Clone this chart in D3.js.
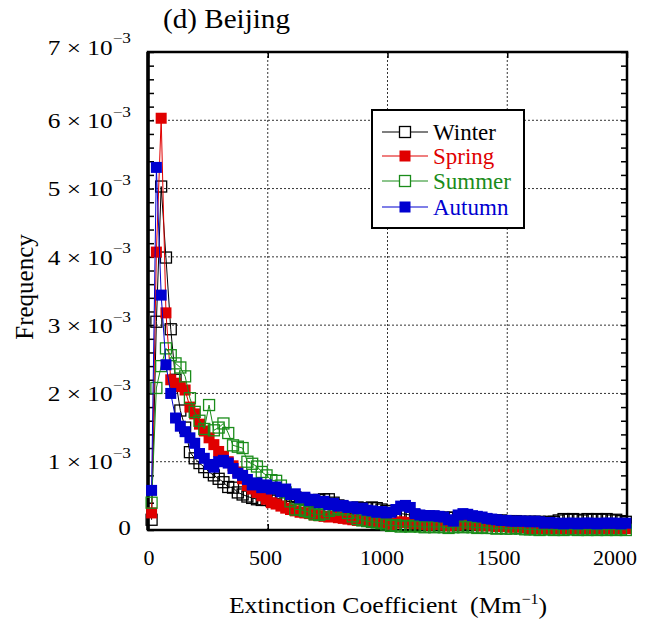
<!DOCTYPE html>
<html><head><meta charset="utf-8">
<script src="https://cdn.jsdelivr.net/npm/d3@7/dist/d3.min.js"></script>
<style>
html,body{margin:0;padding:0;background:#fff;}
svg{display:block;}
text{font-family:"Liberation Serif","Times New Roman",serif;}
</style></head>
<body>
<svg id="chart" width="665" height="624"></svg>
<script>
// Bin positions (Mm^-1)
const binX = [15,35,55,75,95,115,135,155,175,195,215,235,255,275,295,315,335,355,375,395,
415,435,455,475,495,515,535,555,575,595,615,635,655,675,695,715,735,755,775,795,
815,835,855,875,895,915,935,955,975,995,1015,1035,1055,1075,1095,1115,1135,1155,1175,1195,
1215,1235,1255,1275,1295,1315,1335,1355,1375,1395,1415,1435,1455,1475,1495,1515,1535,1555,1575,1595,
1615,1635,1655,1675,1695,1715,1735,1755,1775,1795,1815,1835,1855,1875,1895,1915,1935,1955,1975,1995];

// Frequencies in units of 1e-3
const winter = [0.15,3.05,5.03,3.99,2.94,2.2,1.75,1.5,1.14,1.05,0.98,0.92,0.85,0.8,0.75,0.7,0.63,0.62,0.55,0.52,
0.49,0.47,0.45,0.44,0.44,0.43,0.45,0.47,0.5,0.5,0.48,0.46,0.44,0.42,0.42,0.44,0.45,0.45,0.4,0.36,
0.33,0.32,0.32,0.33,0.32,0.32,0.33,0.32,0.3,0.28,0.25,0.24,0.24,0.23,0.22,0.21,0.2,0.2,0.19,0.19,
0.18,0.18,0.18,0.18,0.17,0.17,0.16,0.16,0.15,0.15,0.15,0.14,0.14,0.14,0.13,0.13,0.13,0.12,0.12,0.12,
0.12,0.12,0.11,0.12,0.12,0.14,0.16,0.15,0.16,0.15,0.14,0.16,0.15,0.16,0.15,0.16,0.14,0.15,0.13,0.12];
const spring = [0.25,4.07,6.03,3.18,2.2,2.15,2.1,2.05,1.8,1.7,1.55,1.45,1.35,1.25,1.15,1.08,1.0,0.94,0.85,0.75,
0.65,0.6,0.55,0.5,0.45,0.4,0.38,0.35,0.32,0.3,0.28,0.26,0.25,0.24,0.22,0.21,0.2,0.19,0.2,0.18,
0.17,0.16,0.15,0.14,0.14,0.13,0.12,0.12,0.11,0.1,0.08,0.1,0.12,0.11,0.1,0.09,0.1,0.08,0.07,0.08,
0.09,0.07,0.06,0.08,0.07,0.09,0.1,0.08,0.07,0.06,0.07,0.06,0.05,0.06,0.05,0.04,0.05,0.04,0.03,0.02,
0.03,0.02,0.03,0.02,0.02,0.03,0.02,0.02,0.03,0.02,0.02,0.03,0.02,0.02,0.03,0.02,0.02,0.02,0.03,0.02];
const summer = [0.4,2.08,2.4,2.66,2.56,2.44,2.38,2.25,1.93,1.73,1.6,1.48,1.83,1.46,1.5,1.56,1.42,1.24,1.22,1.2,
1.0,0.97,0.93,0.85,0.8,0.73,0.72,0.65,0.55,0.42,0.3,0.3,0.28,0.26,0.23,0.22,0.24,0.28,0.3,0.32,
0.3,0.25,0.2,0.16,0.14,0.13,0.12,0.11,0.1,0.08,0.06,0.07,0.05,0.06,0.05,0.06,0.05,0.04,0.05,0.04,
0.05,0.04,0.03,0.04,0.05,0.04,0.05,0.04,0.03,0.04,0.03,0.03,0.02,0.03,0.02,0.02,0.03,0.02,0.01,0.01,
0.01,0.0,0.01,0.01,0.0,0.01,0.0,0.01,0.01,0.0,0.01,0.0,0.01,0.0,0.01,0.0,0.01,0.0,0.01,0.0];
const autumn = [0.58,5.31,3.44,2.42,2.0,1.64,1.52,1.44,1.35,1.27,1.12,1.05,0.96,0.92,1.0,1.02,0.98,0.9,0.83,0.8,
0.74,0.66,0.69,0.62,0.66,0.6,0.63,0.56,0.6,0.52,0.53,0.47,0.48,0.43,0.45,0.4,0.42,0.37,0.39,0.35,
0.36,0.33,0.34,0.31,0.32,0.29,0.28,0.26,0.27,0.25,0.26,0.3,0.35,0.36,0.33,0.24,0.22,0.21,0.21,0.21,
0.2,0.19,0.15,0.13,0.22,0.24,0.23,0.21,0.2,0.19,0.17,0.16,0.15,0.14,0.14,0.13,0.13,0.13,0.13,0.12,
0.13,0.12,0.1,0.11,0.1,0.1,0.09,0.1,0.1,0.09,0.1,0.1,0.1,0.09,0.1,0.1,0.1,0.1,0.09,0.1];

const seriesNames = ["Winter","Spring","Summer","Autumn"];
const seriesColors = ["#000000","#e00000","#1a8c1a","#0000d0"];
const seriesFilled = [false,true,false,true];
const seriesValues = [winter,spring,summer,autumn];

const yTicks = [0,1,2,3,4,5,6,7];
const xTicks = [0,500,1000,1500,2000];

const svg = d3.select("#chart");
const L = 148, R = 627, T = 52, B = 530;
const x = d3.scaleLinear().domain([0,2000]).range([L,R]);
const y = d3.scaleLinear().domain([0,7]).range([B,T]);
// tick labels in the original sit on a slightly narrower span than the ticks
const xLab = d3.scaleLinear().domain([0,2000]).range([149,615]);

// grid
const grid = svg.append("g");
grid.selectAll("line.gy").data(yTicks.filter(d=>d>0&&d<7)).join("line")
  .attr("x1",L).attr("x2",R).attr("y1",d=>y(d)).attr("y2",d=>y(d))
  .attr("stroke","#333").attr("stroke-width",1).attr("stroke-dasharray","2,2");
grid.selectAll("line.gx").data(xTicks.filter(d=>d>0&&d<2000)).join("line")
  .attr("y1",T).attr("y2",B).attr("x1",d=>x(d)).attr("x2",d=>x(d))
  .attr("stroke","#333").attr("stroke-width",1).attr("stroke-dasharray","2,2");

// axes with inward ticks
const minorY = d3.range(0,7.001,0.2);
const axL = svg.append("g").attr("transform",`translate(${L},0)`)
  .call(d3.axisRight(y).tickValues(minorY).tickSize(6).tickFormat(""));
const axR = svg.append("g").attr("transform",`translate(${R},0)`)
  .call(d3.axisLeft(y).tickValues(minorY).tickSize(6).tickFormat(""));
const axB = svg.append("g").attr("transform",`translate(0,${B})`)
  .call(d3.axisTop(x).tickValues(xTicks).tickSize(6).tickFormat(""));
const axT = svg.append("g").attr("transform",`translate(0,${T})`)
  .call(d3.axisBottom(x).tickValues(xTicks).tickSize(6).tickFormat(""));
[axL,axR,axB,axT].forEach(a=>{
  a.select(".domain").remove();
  a.selectAll(".tick line").attr("stroke","#000").attr("stroke-width",1.5);
});
svg.append("rect").attr("x",L).attr("y",T).attr("width",R-L).attr("height",B-T)
  .attr("fill","none").attr("stroke","#000").attr("stroke-width",2.5);
svg.append("line").attr("x1",L).attr("x2",L).attr("y1",T).attr("y2",B)
  .attr("stroke","#000").attr("stroke-width",3.5);

// series
const line = d3.line().x((d,i)=>x(binX[i])).y(d=>y(d));
const ms = 11;
seriesValues.forEach((vals,k)=>{
  const g = svg.append("g");
  g.append("path").datum(vals).attr("d",line).attr("fill","none")
    .attr("stroke",seriesColors[k]).attr("stroke-width",1);
  g.selectAll("rect").data(vals).join("rect")
    .attr("x",(d,i)=>x(binX[i])-ms/2).attr("y",d=>y(d)-ms/2)
    .attr("width",ms).attr("height",ms)
    .attr("fill",seriesFilled[k]?seriesColors[k]:"none")
    .attr("stroke",seriesColors[k]).attr("stroke-width",seriesFilled[k]?0:1.3);
});

// y tick labels
const yl = svg.append("g");
yTicks.forEach(v=>{
  const g = yl.append("g").attr("transform",`translate(131,${y(v)+(v===7?-5:(v===0?-3:0))}) scale(1.15,1)`);
  const t = g.append("text").attr("x",0).attr("y",0).attr("dy","0.35em")
    .attr("text-anchor","end").attr("font-size",22);
  if(v===0){ t.text("0"); }
  else {
    t.append("tspan").text(v+" \u00d7 10");
    t.append("tspan").attr("font-size",15).attr("dy","-0.75em").text("\u22123");
  }
});
// x tick labels
svg.append("g").selectAll("text").data(xTicks).join("text")
  .attr("x",d=>xLab(d)).attr("y",557).attr("dy","0.35em").attr("text-anchor","middle")
  .attr("font-size",22).text(d=>d);

// titles
svg.append("text").attr("x",163).attr("y",28).attr("font-size",27)
  .attr("textLength",127).attr("lengthAdjust","spacingAndGlyphs").text("(d) Beijing");
svg.append("text").attr("transform","translate(33,287) rotate(-90)").attr("text-anchor","middle")
  .attr("font-size",25).text("Frequency");
const xtg = svg.append("g").attr("transform","translate(388,613) scale(1.07,1)");
const xt = xtg.append("text").attr("x",0).attr("y",0).attr("text-anchor","middle").attr("font-size",24);
xt.append("tspan").text("Extinction Coefficient\u00a0\u00a0(Mm");
xt.append("tspan").attr("font-size",15).attr("dy","-0.6em").text("\u22121");
xt.append("tspan").attr("dy","0.4em").text(")");

// legend
const lg = svg.append("g");
lg.append("rect").attr("x",372).attr("y",110).attr("width",152).attr("height",118)
  .attr("fill","#fff").attr("stroke","#000").attr("stroke-width",2);
const rowY = [132,156,181,207];
seriesNames.forEach((n,k)=>{
  lg.append("line").attr("x1",382).attr("x2",428).attr("y1",rowY[k]).attr("y2",rowY[k])
    .attr("stroke",seriesColors[k]).attr("stroke-width",1.2);
  lg.append("rect").attr("x",405-ms/2).attr("y",rowY[k]-ms/2).attr("width",ms).attr("height",ms)
    .attr("fill",seriesFilled[k]?seriesColors[k]:"#fff").attr("stroke",seriesColors[k])
    .attr("stroke-width",seriesFilled[k]?0:1.3);
  lg.append("text").attr("x",433).attr("y",rowY[k]).attr("dy","0.35em").attr("font-size",23)
    .attr("fill",seriesColors[k]).text(n);
});
</script>
</body></html>
